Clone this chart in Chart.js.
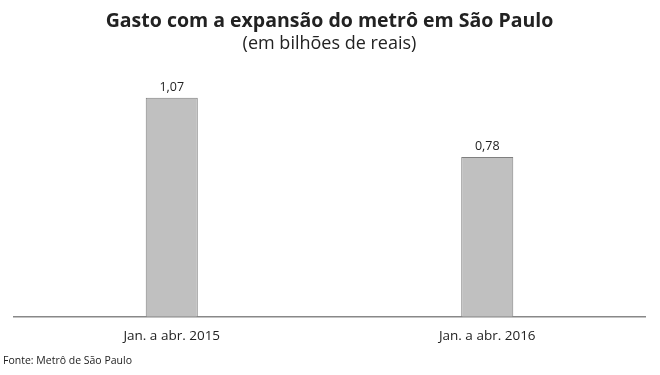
<!DOCTYPE html>
<html>
<head>
<meta charset="utf-8">
<script src="https://cdn.jsdelivr.net/npm/chart.js@4"></script>
<style>
  html, body { margin: 0; padding: 0; background: #fff; }
  #wrap { width: 660px; height: 375px; }
</style>
</head>
<body>
<div id="wrap"><canvas id="metroChart" width="660" height="375"></canvas></div>
<script>
const categories = ['Jan. a abr. 2015', 'Jan. a abr. 2016'];
const gastos = [1.07, 0.78];
const rotulos = ['1,07', '0,78'];
const fonte = 'Fonte: Metrô de São Paulo';

// rótulos acima das barras + fonte no rodapé
const extras = {
    id: 'extras',
    afterDatasetsDraw(chart) {
        const ctx = chart.ctx;
        const meta = chart.getDatasetMeta(0);
        ctx.save();
        ctx.fillStyle = '#222';
        ctx.font = '12.5px "Open Sans", sans-serif';
        ctx.textAlign = 'center';
        ctx.textBaseline = 'bottom';
        meta.data.forEach((bar, i) => {
            ctx.fillText(rotulos[i], bar.x, bar.y - 4);
        });
        ctx.textAlign = 'left';
        ctx.textBaseline = 'middle';
        ctx.font = '10.5px "Open Sans", sans-serif';
        ctx.fillText(fonte, 3, 361);
        ctx.restore();
    }
};

const ctx = document.getElementById('metroChart').getContext('2d');
new Chart(ctx, {
    type: 'bar',
    data: {
        labels: categories,
        datasets: [{
            data: gastos,
            backgroundColor: '#c0c0c0',
            borderColor: '#7f7f7f',
            borderWidth: 1,
            categoryPercentage: 1,
            barPercentage: 0.165
        }]
    },
    options: {
        responsive: false,
        animation: false,
        layout: { padding: { left: 14, right: 15, top: 0, bottom: 28 } },
        plugins: {
            legend: { display: false },
            tooltip: { enabled: false },
            title: {
                display: true,
                text: 'Gasto com a expansão do metrô em São Paulo',
                color: '#222',
                font: { family: '"Open Sans", sans-serif', size: 19.5, weight: 'bold' },
                padding: { top: 10, bottom: 0 }
            },
            subtitle: {
                display: true,
                text: '(em bilhões de reais)',
                color: '#222',
                font: { family: '"Open Sans", sans-serif', size: 18 },
                padding: { top: 0, bottom: 10 }
            }
        },
        scales: {
            x: {
                grid: { display: false },
                border: { display: true, color: '#888', width: 1.5 },
                ticks: { color: '#222', font: { family: '"Open Sans", sans-serif', size: 13.5 }, padding: 3 }
            },
            y: {
                display: false,
                min: 0,
                max: 1.23
            }
        }
    },
    plugins: [extras]
});
</script>
</body>
</html>
